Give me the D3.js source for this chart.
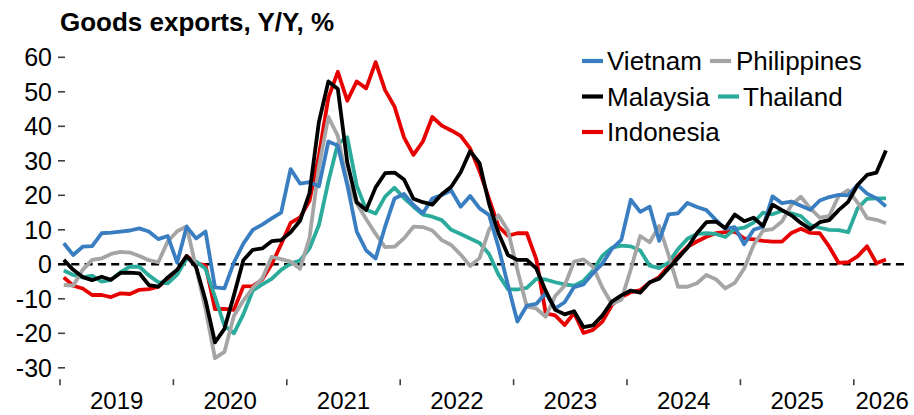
<!DOCTYPE html>
<html><head><meta charset="utf-8">
<script src="https://cdn.jsdelivr.net/npm/d3@7/dist/d3.min.js"></script>
<style>
body{margin:0;background:#fff;}
svg{display:block;font-family:"Liberation Sans",Arial,Helvetica,sans-serif;}
</style>
</head><body>
<svg id="chart" width="914" height="415"></svg>
<script>
// ---------- data (monthly, Jan 2019 .. Apr 2026) ----------
const months = d3.timeMonth.range(new Date(2019, 0, 1), new Date(2026, 4, 1));
const yearLabels = ["2019", "2020", "2021", "2022", "2023", "2024", "2025", "2026"];
const yTicks = [-30, -20, -10, 0, 10, 20, 30, 40, 50, 60];
const seriesNames = ["Vietnam", "Philippines", "Malaysia", "Thailand", "Indonesia"];

const vietnam = [6.1, 2.7, 5.1, 5.3, 9.0, 9.2, 9.5, 9.8, 10.4, 9.5, 7.3, 8.2, 0.5, 10.9, 7.5, 9.5, -6.7, -7.0, 0.5, 6.0, 10.0, 11.5,
  13.3, 15.0, 27.6, 23.4, 23.8, 22.6, 35.6, 34.4, 23.0, 9.5, 4.0, 1.7, 10.9, 19.1, 20.4, 17.2, 14.8, 19.1, 20.1, 21.4, 16.7, 19.8,
  16.2, 14.3, 5.0, -6.0, -16.6, -12.0, -11.5, -8.3, -12.8, -11.0, -6.6, -5.8, -2.6, 0.2, 4.5, 7.1, 18.7, 15.2, 16.7, 6.8, 14.5, 14.8,
  17.8, 16.6, 15.7, 12.9, 10.3, 10.8, 5.8, 10.0, 10.9, 19.7, 17.7, 18.2, 17.0, 15.8, 18.5, 19.5, 20.1, 20.0, 23.0, 20.5, 19.1, 16.8];

const philippines = [-6.0, -6.2, -1.6, 1.3, 1.7, 3.0, 3.6, 3.4, 2.4, 1.2, 0.6, 6.6, 9.6, 11.0, -1.0, -13.0, -27.2, -25.4, -15.0, -10.5, -6.8, -4.1,
  2.2, 1.5, 0.8, -1.3, 7.6, 28.3, 42.7, 37.2, 23.5, 17.6, 13.1, 8.8, 5.0, 5.1, 7.5, 10.9, 10.8, 9.8, 7.0, 5.6, 2.8, -0.5,
  1.8, 10.0, 14.2, 9.8, -1.6, -12.3, -12.8, -15.2, -9.2, -6.2, 0.8, 1.4, -0.7, -6.8, -11.5, -10.3, -1.5, 8.2, 6.4, 11.1, 2.7, -6.5,
  -6.5, -5.5, -3.1, -4.3, -7.0, -5.4, -1.2, 5.6, 9.8, 10.2, 12.4, 17.2, 19.6, 16.2, 13.5, 14.0, 19.8, 21.5, 17.9, 13.4, 12.9, 11.9];

const malaysia = [1.3, -1.6, -3.7, -4.6, -3.6, -4.5, -2.5, -2.4, -2.6, -6.0, -6.5, -3.8, -1.6, 2.4, -0.8, -10.4, -22.6, -18.7, -9.0, 1.2, 4.2, 4.6,
  6.7, 7.0, 9.3, 12.6, 20.6, 41.3, 53.0, 50.8, 29.5, 18.0, 15.7, 22.3, 26.4, 26.6, 24.6, 19.0, 18.0, 17.3, 20.3, 22.5, 26.7, 32.8,
  29.3, 17.6, 9.0, 2.7, 1.3, 1.3, -1.2, -7.7, -13.2, -14.5, -13.6, -18.2, -17.7, -14.8, -10.8, -9.0, -7.6, -8.2, -5.2, -4.2, -1.2, 1.8,
  4.8, 9.0, 12.2, 12.4, 10.5, 14.4, 12.5, 13.5, 11.1, 17.3, 15.7, 14.2, 12.0, 10.2, 12.2, 12.8, 15.7, 18.1, 23.0, 25.9, 26.6, 33.0];

const thailand = [-1.8, -3.1, -3.8, -3.3, -5.0, -4.5, -2.3, -0.7, -0.7, -3.2, -5.2, -5.5, -3.0, 1.7, 0.8, -1.3, -9.4, -17.8, -20.0, -14.5, -7.6, -5.8,
  -4.2, -1.6, 0.2, 1.1, 4.6, 11.4, 24.0, 35.0, 36.8, 22.8, 15.8, 14.7, 19.6, 22.2, 19.2, 16.7, 14.4, 13.8, 12.8, 10.0, 8.8, 7.5,
  6.2, 3.0, -3.0, -7.2, -7.3, -6.8, -4.2, -4.4, -5.2, -5.8, -6.2, -4.8, -1.8, 2.5, 4.8, 5.4, 5.2, 4.0, -0.4, -1.1, 0.5, 4.4,
  7.4, 8.8, 9.0, 8.8, 7.9, 10.2, 10.6, 12.1, 15.0, 14.5, 15.5, 14.8, 14.0, 11.4, 10.6, 10.0, 9.9, 9.3, 16.2, 19.0, 19.1, 19.1];

const indonesia = [-3.8, -6.2, -7.0, -8.9, -8.9, -9.5, -8.4, -8.6, -7.4, -7.2, -6.5, -4.4, -1.8, 2.4, 0.3, -0.3, -13.0, -12.9, -13.2, -6.4, -6.3, -4.4,
  0.0, 5.8, 12.0, 13.6, 18.4, 31.6, 48.3, 55.8, 47.4, 53.0, 51.0, 58.6, 50.5, 45.7, 36.8, 31.7, 35.6, 42.7, 40.2, 38.8, 37.2, 33.6,
  27.0, 19.0, 11.0, 8.3, 9.0, 9.0, 1.5, -14.2, -14.8, -17.6, -14.1, -19.9, -19.0, -16.6, -11.8, -9.5, -8.1, -7.5, -5.3, -3.7, -0.6, 2.3,
  5.1, 6.6, 8.0, 9.0, 9.3, 9.5, 7.5, 7.2, 6.8, 6.6, 6.6, 9.1, 10.3, 9.1, 9.0, 5.1, 0.4, 0.6, 2.3, 5.2, 0.3, 1.4];

// ---------- styling ----------
const colors = {Vietnam: "#3a7ec2", Philippines: "#a5a5a5", Malaysia: "#000000", Thailand: "#2aab9b", Indonesia: "#e60000"};
const values = {Vietnam: vietnam, Philippines: philippines, Malaysia: malaysia, Thailand: thailand, Indonesia: indonesia};
const drawOrder = ["Indonesia", "Thailand", "Philippines", "Vietnam", "Malaysia"];

const svg = d3.select("#chart");

// scales: month index on x, value on y
const x = d3.scaleLinear().domain([-0.4, 89.6]).range([60, 910.5]);
const y = d3.scaleLinear().domain([-33.3, 60]).range([379.2, 57.3]);

// title
svg.append("text").attr("x", 60).attr("y", 31)
  .attr("font-size", 26).attr("font-weight", "bold").attr("fill", "#000")
  .text("Goods exports, Y/Y, %");

// y axis ticks + labels
const yg = svg.append("g");
yg.selectAll("line").data(yTicks).join("line")
  .attr("x1", 58).attr("x2", 65)
  .attr("y1", d => y(d)).attr("y2", d => y(d))
  .attr("stroke", "#404040").attr("stroke-width", 1.6);
yg.selectAll("text").data(yTicks).join("text")
  .attr("x", 52).attr("y", d => y(d) + 9)
  .attr("text-anchor", "end").attr("font-size", 25).attr("fill", "#000")
  .text(d => d);

// x axis ticks at year boundaries
const yearStarts = yearLabels.map((_, k) => 12 * k - 0.4);
const axisY = y(-33.3);
const xg = svg.append("g");
xg.selectAll("line").data(yearStarts).join("line")
  .attr("x1", d => x(d)).attr("x2", d => x(d))
  .attr("y1", axisY).attr("y2", axisY + 6)
  .attr("stroke", "#404040").attr("stroke-width", 1.6);
const xMax = x.domain()[1];
xg.selectAll("text").data(yearLabels).join("text")
  .attr("x", (d, k) => x((yearStarts[k] + Math.min(yearStarts[k] + 12, xMax)) / 2))
  .attr("y", 409)
  .attr("text-anchor", "middle").attr("font-size", 24).attr("fill", "#000")
  .text(d => d);

// zero dashed line
svg.append("line")
  .attr("x1", 58).attr("x2", 905)
  .attr("y1", y(0)).attr("y2", y(0))
  .attr("stroke", "#000").attr("stroke-width", 2.6)
  .attr("stroke-dasharray", "8,5.3");

// series lines
const line = d3.line().x((d, i) => x(i)).y(d => y(d));
svg.append("g").selectAll("path").data(drawOrder).join("path")
  .attr("d", name => line(values[name]))
  .attr("fill", "none")
  .attr("stroke", name => colors[name])
  .attr("stroke-width", 3.8)
  .attr("stroke-linejoin", "round")
  .attr("stroke-linecap", "butt");

// legend
const legendItems = [
  {name: "Vietnam", sx: 582, tx: 607, row: 0},
  {name: "Philippines", sx: 710, tx: 736, row: 0},
  {name: "Malaysia", sx: 582, tx: 607, row: 1},
  {name: "Thailand", sx: 718, tx: 743, row: 1},
  {name: "Indonesia", sx: 582, tx: 607, row: 2}
];
const rowY = [61, 96.5, 132];
const lg = svg.append("g");
lg.selectAll("line").data(legendItems).join("line")
  .attr("x1", d => d.sx).attr("x2", d => d.sx + 21)
  .attr("y1", d => rowY[d.row]).attr("y2", d => rowY[d.row])
  .attr("stroke", d => colors[d.name]).attr("stroke-width", 4.2);
lg.selectAll("text").data(legendItems).join("text")
  .attr("x", d => d.tx).attr("y", d => rowY[d.row] + 9)
  .attr("font-size", 26).attr("fill", "#000")
  .text(d => d.name);
</script>
</body></html>
